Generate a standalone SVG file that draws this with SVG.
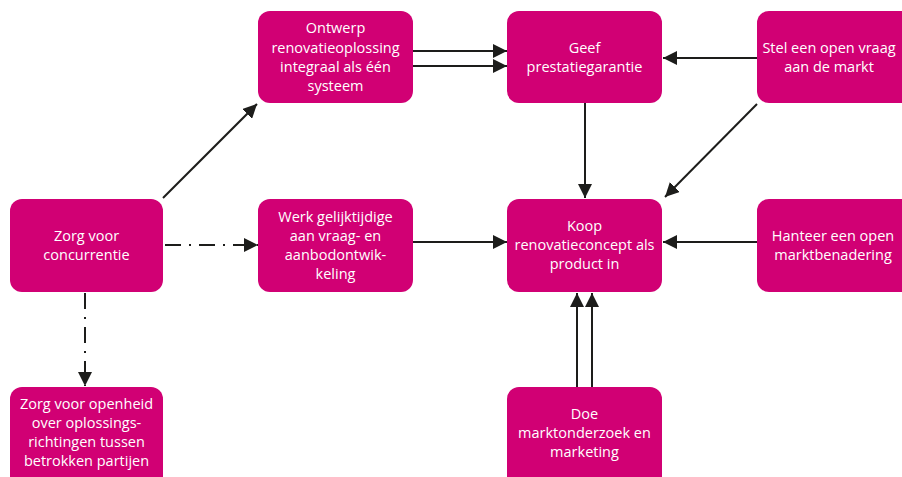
<svg xmlns="http://www.w3.org/2000/svg" width="902" height="477" viewBox="0 0 902 477">
<style>
.box{fill:#D10074}
.t{fill:#fff;font-family:"Open Sans","Noto Sans",sans-serif;font-size:14.5px;text-anchor:middle}
.c{stroke:#1d1d1b;stroke-width:2;fill:none}
.dd{stroke-dasharray:16,8,2,8}
</style>
<defs>
<marker id="a" viewBox="0 0 10 10" refX="10" refY="5" markerWidth="9" markerHeight="9" markerUnits="userSpaceOnUse" orient="auto"><path d="M0,0L10,5L0,10z" fill="#1d1d1b"/></marker>
<marker id="b" viewBox="0 0 10 10" refX="10" refY="5" markerWidth="14" markerHeight="14" markerUnits="userSpaceOnUse" orient="auto"><path d="M0,0L10,5L0,10z" fill="#1d1d1b"/></marker>
</defs>
<g id="connectors">
<line class="c" x1="413" y1="51" x2="507" y2="51" marker-end="url(#b)"/>
<line class="c" x1="413" y1="66" x2="507" y2="66" marker-end="url(#b)"/>
<line class="c" x1="757" y1="58" x2="663" y2="58" marker-end="url(#b)"/>
<line class="c" x1="585" y1="103" x2="585" y2="198" marker-end="url(#b)"/>
<line class="c" x1="757" y1="104" x2="665" y2="197" marker-end="url(#b)"/>
<line class="c" x1="757" y1="242" x2="663" y2="242" marker-end="url(#b)"/>
<line class="c" x1="413" y1="242" x2="507" y2="242" marker-end="url(#b)"/>
<line class="c" x1="163" y1="198" x2="257" y2="104" marker-end="url(#b)"/>
<line class="c dd" x1="165" y1="245" x2="258" y2="245" marker-end="url(#b)"/>
<line class="c dd" x1="85" y1="293" x2="85" y2="386" marker-end="url(#b)"/>
<line class="c" x1="577" y1="387" x2="577" y2="293" marker-end="url(#b)"/>
<line class="c" x1="592" y1="387" x2="592" y2="293" marker-end="url(#b)"/>
</g>
<g id="ontwerp"><rect class="box" x="258" y="11" width="155" height="92" rx="12"/>
<text class="t" x="335.5" y="33">Ontwerp</text><text class="t" x="335.5" y="53">renovatieoplossing</text><text class="t" x="335.5" y="72">integraal als één</text><text class="t" x="335.5" y="91">systeem</text></g>
<g id="geef"><rect class="box" x="507" y="11" width="155" height="92" rx="12"/>
<text class="t" x="584.5" y="53">Geef</text><text class="t" x="584.5" y="72">prestatiegarantie</text></g>
<g id="stel"><rect class="box" x="757" y="11" width="160" height="92" rx="12"/>
<text class="t" x="829" y="53">Stel een open vraag</text><text class="t" x="829" y="72">aan de markt</text></g>
<g id="concurrentie"><rect class="box" x="10" y="199" width="153" height="93" rx="12"/>
<text class="t" x="86.5" y="241">Zorg voor</text><text class="t" x="86.5" y="260">concurrentie</text></g>
<g id="werk"><rect class="box" x="258" y="199" width="155" height="93" rx="12"/>
<text class="t" x="335.5" y="222">Werk gelijktijdige</text><text class="t" x="335.5" y="241">aan vraag- en</text><text class="t" x="335.5" y="260">aanbodontwik-</text><text class="t" x="335.5" y="279">keling</text></g>
<g id="koop"><rect class="box" x="507" y="199" width="155" height="93" rx="12"/>
<text class="t" x="584.5" y="231">Koop</text><text class="t" x="584.5" y="250">renovatieconcept als</text><text class="t" x="584.5" y="269">product in</text></g>
<g id="hanteer"><rect class="box" x="757" y="199" width="160" height="93" rx="12"/>
<text class="t" x="833" y="241">Hanteer een open</text><text class="t" x="833" y="260">marktbenadering</text></g>
<g id="openheid"><rect class="box" x="10" y="387" width="153" height="102" rx="12"/>
<text class="t" x="86.5" y="409">Zorg voor openheid</text><text class="t" x="86.5" y="428">over oplossings-</text><text class="t" x="86.5" y="447">richtingen tussen</text><text class="t" x="86.5" y="466">betrokken partijen</text></g>
<g id="doe"><rect class="box" x="507" y="387" width="155" height="102" rx="12"/>
<text class="t" x="584.5" y="419">Doe</text><text class="t" x="584.5" y="438">marktonderzoek en</text><text class="t" x="584.5" y="457">marketing</text></g>
</svg>
